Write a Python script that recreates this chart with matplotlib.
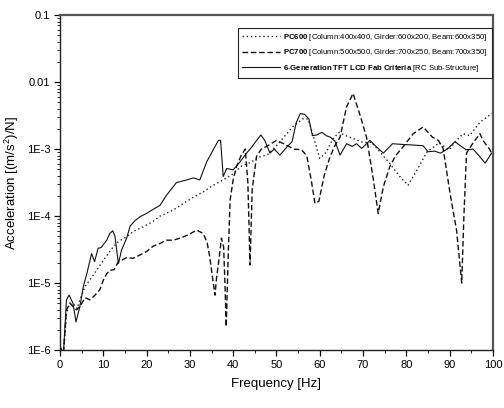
import numpy as np
import matplotlib
matplotlib.use("Agg")
import matplotlib.pyplot as plt
from matplotlib.ticker import FixedLocator, MultipleLocator, LogLocator, NullFormatter

# ---------------- data (log10 of acceleration) ----------------
crit_freq = [0, 0.8, 1.5, 2.1, 3.0, 3.7, 4.6, 5.4, 6.2, 7.3, 8.0, 8.8, 9.5, 10.8, 11.5, 12.2, 12.7,
             13.5, 14.2, 15.4, 16.2, 17.3, 18.5, 20.0, 21.5, 23.1, 24.6, 26.9, 29.3, 30.8, 32.3, 33.9,
             35.4, 36.6, 37.1, 37.7, 38.5, 40.0, 41.6, 43.1, 44.3, 45.3, 46.4, 47.3, 48.5, 49.5, 50.8,
             52.4, 53.6, 54.6, 55.5, 56.5, 57.5, 58.3, 59.3, 60.5, 61.5, 62.4, 63.5, 64.7, 66.2, 67.5,
             68.5, 69.7, 71.6, 72.8, 74.7, 76.8, 79.0, 81.6, 83.9, 85.0, 86.5, 87.9, 89.5, 91.2, 92.5,
             93.8, 95.4, 96.8, 98.2, 99.7, 100]
crit_log = [-5.95, -6.05, -5.25, -5.18, -5.3, -5.58, -5.35, -5.05, -4.86, -4.56, -4.68, -4.48, -4.47,
            -4.36, -4.26, -4.22, -4.3, -4.71, -4.51, -4.33, -4.15, -4.07, -4.01, -3.96, -3.9, -3.84,
            -3.69, -3.5, -3.46, -3.43, -3.46, -3.19, -3.01, -2.87, -2.87, -3.41, -3.29, -3.31, -3.19,
            -3.06, -2.97, -2.88, -2.79, -2.87, -3.06, -3.0, -3.09, -2.97, -2.89, -2.6, -2.47, -2.48,
            -2.55, -2.8, -2.79, -2.75, -2.8, -2.82, -2.88, -3.09, -2.92, -2.96, -2.92, -2.99, -2.87,
            -2.95, -3.06, -2.92, -2.93, -2.94, -2.95, -3.04, -3.03, -3.06, -3.0, -2.89, -2.95, -3.01,
            -3.0, -3.1, -3.21, -3.06, -3.05]

pc700_freq = [0, 0.8, 1.5, 2.3, 3.0, 3.8, 4.6, 5.8, 6.9, 8.1, 9.2, 10.0, 10.8, 11.5, 12.5, 13.5, 14.5,
              15.4, 16.9, 18.5, 20.0, 21.5, 23.1, 24.5, 26.2, 27.7, 29.6, 31.6, 33.1, 34.0, 34.6, 35.3,
              35.8, 36.2, 36.6, 37.3, 37.8, 38.1, 38.4, 38.9, 39.3, 40.0, 40.8, 41.8, 42.8, 43.4, 43.9,
              44.4, 45.4, 46.5, 48.0, 50.0, 52.0, 54.0, 55.8, 57.0, 58.0, 58.9, 59.8, 61.0, 62.4, 63.5,
              64.7, 66.2, 67.7, 69.2, 70.8, 72.4, 73.5, 74.7, 76.2, 77.5, 79.2, 81.6, 83.9, 86.0, 87.4,
              88.5, 90.1, 91.6, 92.8, 93.3, 93.9, 95.5, 97.0, 97.7, 99.3, 100]
pc700_log = [-5.95, -6.05, -5.4, -5.3, -5.35, -5.4, -5.35, -5.22, -5.25, -5.18, -5.1, -4.96, -4.86,
             -4.81, -4.8, -4.68, -4.65, -4.62, -4.63, -4.58, -4.53, -4.45, -4.41, -4.36, -4.36, -4.33,
             -4.28, -4.21, -4.26, -4.4, -4.61, -4.95, -5.18, -4.9, -4.71, -4.33, -4.46, -5.0, -5.65,
             -4.5, -3.76, -3.46, -3.26, -3.1, -3.0, -3.5, -4.73, -3.6, -3.11, -3.0, -2.95, -2.87, -2.93,
             -3.0, -3.01, -3.1, -3.45, -3.81, -3.78, -3.4, -3.11, -2.95, -2.82, -2.37, -2.17, -2.47,
             -2.82, -3.46, -3.96, -3.56, -3.26, -3.1, -2.97, -2.77, -2.67, -2.82, -2.87, -2.99, -3.66,
             -4.21, -5.0, -4.0, -3.06, -2.9, -2.77, -2.87, -3.01, -3.1]

pc600_freq = [0, 0.8, 1.5, 2.3, 3.2, 4.0, 4.6, 5.8, 7.7, 10.0, 12.3, 13.5, 15.4, 16.9, 19.2, 21.5,
              23.1, 26.2, 28.5, 30.8, 33.1, 35.4, 37.7, 40.0, 42.0, 44.0, 46.0, 48.0, 50.0, 52.0, 54.0,
              56.0, 57.3, 58.5, 60.0, 61.5, 63.0, 64.5, 66.0, 68.0, 70.0, 72.0, 74.0, 76.0, 78.5, 80.4,
              82.5, 84.8, 87.6, 89.9, 91.6, 93.1, 94.6, 97.0, 99.3, 100]
pc600_log = [-5.95, -6.05, -5.45, -5.3, -5.32, -5.38, -5.25, -5.05, -4.88, -4.66, -4.46, -4.38, -4.31,
             -4.23, -4.16, -4.08, -4.0, -3.91, -3.81, -3.72, -3.64, -3.54, -3.46, -3.37, -3.25, -3.2,
             -3.12, -3.08, -2.95, -2.8, -2.65, -2.55, -2.55, -2.8, -3.14, -3.05, -2.85, -2.75, -2.8,
             -2.85, -2.9, -2.9, -3.05, -3.2, -3.41, -3.54, -3.31, -3.04, -2.91, -3.01, -2.87, -2.77,
             -2.8, -2.6, -2.49, -2.47]

x_ticks = [0, 10, 20, 30, 40, 50, 60, 70, 80, 90, 100]
y_ticks = [0.1, 0.01, 1e-3, 1e-4, 1e-5, 1e-6]
y_tick_labels = ["0.1", "0.01", "1E-3", "1E-4", "1E-5", "1E-6"]

labels = [
    r"$\mathbf{PC600}$ [Column:400x400, Girder:600x200, Beam:600x350]",
    r"$\mathbf{PC700}$ [Column:500x500, Girder:700x250, Beam:700x350]",
    r"$\mathbf{6\text{-}Generation\ TFT\ LCD\ Fab\ Criteria}$ [RC Sub-Structure]",
]

# ---------------- styling ----------------
plt.rcParams["font.family"] = ["Liberation Sans", "DejaVu Sans"]
plt.rcParams["mathtext.fontset"] = "custom"
plt.rcParams["mathtext.rm"] = "Liberation Sans"
plt.rcParams["mathtext.bf"] = "Liberation Sans:bold"
plt.rcParams["mathtext.it"] = "Liberation Sans:italic"

fig = plt.figure(figsize=(5.04, 4.08), dpi=100)
ax = fig.add_axes([0.119, 0.142, 0.859, 0.821])

ax.plot(pc600_freq, np.power(10.0, pc600_log), color="#222222", lw=1.0,
        linestyle=(0, (1, 2)), label=labels[0])
ax.plot(pc700_freq, np.power(10.0, pc700_log), color="#111111", lw=1.0,
        linestyle=(0, (4, 2)), label=labels[1])
ax.plot(crit_freq, np.power(10.0, crit_log), color="#111111", lw=0.8,
        linestyle="-", label=labels[2])

ax.set_yscale("log")
ax.set_xlim(0, 100)
ax.set_ylim(1e-6, 0.1)
ax.xaxis.set_major_locator(FixedLocator(x_ticks))
ax.xaxis.set_minor_locator(MultipleLocator(5))
ax.yaxis.set_major_locator(FixedLocator(y_ticks))
ax.set_yticklabels(y_tick_labels)
ax.yaxis.set_minor_locator(LogLocator(base=10, subs=np.arange(2, 10), numticks=20))
ax.yaxis.set_minor_formatter(NullFormatter())
ax.tick_params(axis="both", which="major", direction="out", length=4, width=0.9,
               labelsize=8, pad=3)
ax.tick_params(axis="both", which="minor", direction="out", length=2, width=0.6)

for side in ["top", "right"]:
    ax.spines[side].set_linewidth(1.6)
    ax.spines[side].set_color("#555555")
for side in ["left", "bottom"]:
    ax.spines[side].set_linewidth(1.0)
    ax.spines[side].set_color("#222222")

ax.set_xlabel("Frequency [Hz]", fontsize=9.5, labelpad=6)
ax.set_ylabel(r"Acceleration [(m/s$^{2}$)/N]", fontsize=9.5, labelpad=4)

leg = ax.legend(loc="upper right", bbox_to_anchor=(0.997, 0.962), borderaxespad=0,
                handlelength=4.8, handletextpad=0.4, labelspacing=0.55,
                borderpad=0.55, fancybox=False, framealpha=1, edgecolor="#222222",
                prop={"family": ["Liberation Sans", "DejaVu Sans"], "size": 5.6})
leg.get_frame().set_linewidth(0.8)

fig.savefig("out.png", dpi=100)
